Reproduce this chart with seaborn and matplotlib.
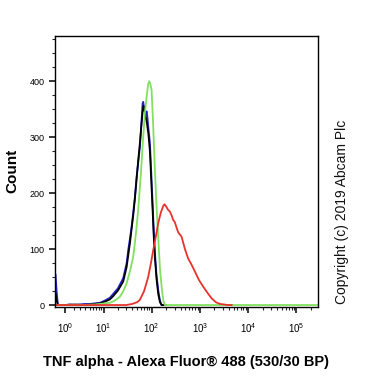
import numpy as np
import pandas as pd
import matplotlib
matplotlib.use("Agg")
import matplotlib.pyplot as plt
import matplotlib.ticker as mticker
import seaborn as sns

# ---- data (fluorescence intensity, event count) ----
blue_x = [0.05, 0.15, 0.28, 1.0, 1.5, 2.2, 3.0, 3.9, 5.1, 6.6, 8.4, 10.7, 13.6, 16.0, 20.1,
          25.8, 30.4, 33, 35.5, 38.5, 41.6, 45.1, 48.9, 52.8, 57.3, 61, 65.1, 67, 70, 72.7,
          76, 79, 82, 86, 92.2, 98, 104.9, 110, 117.1, 126, 137, 149, 161, 200]
blue_y = [55, 25, 0, 0, 1, 0, 1, 2, 2, 3, 4, 8, 13, 20, 30,
          48, 75, 100, 118, 140, 165, 193, 229, 255, 283, 320, 360, 363, 352, 348,
          342, 346, 335, 315, 290, 240, 182, 140, 93, 55, 27, 8, 0, 0]

black_x = [0.05, 0.15, 0.28, 1.0, 2.2, 3.9, 5.1, 8.4, 10.7, 13.6, 16.0, 20.1, 25.8, 30.4,
           35.5, 41.6, 45.1, 48.9, 52.8, 57.3, 61, 65.1, 68, 70, 72.7, 76, 80, 86, 92.2,
           98, 104.9, 110, 117.1, 126, 137, 149, 161, 200]
black_y = [21, 8, 0, 0, 1, 0, 1, 3, 6, 10, 16, 26, 42, 68,
           110, 160, 190, 225, 258, 290, 318, 345, 356, 352, 345, 335, 325, 305, 275,
           225, 170, 128, 85, 48, 20, 5, 0, 0]

green_x = [0.05, 1.0, 3.0, 6.6, 10.7, 13.6, 17.4, 22.1, 26, 30.4, 35.5, 41.6, 47, 52.8,
           60, 67, 73, 78.8, 85, 89.2, 94, 100, 107.9, 117.1, 126, 137, 149, 161, 175,
           188, 1000, 10000, 100000, 278000]
green_y = [0, 0, 0, 1, 3, 4, 8, 15, 25, 39, 60, 86, 125, 170,
           235, 300, 345, 372, 395, 400, 395, 384, 320, 241, 180, 122, 65, 33, 8,
           0, 0, 0, 0, 0]

red_x = [0.05, 1.0, 10, 30, 40, 50, 57, 70, 85, 97, 108, 122, 137, 155, 174, 185, 200,
         220, 239, 260, 280, 303, 330, 355, 418, 490, 572, 673, 787, 953, 1169, 1430,
         1747, 2143, 2594, 3140, 3800, 4600]
red_y = [0, 0, 0, 0, 2, 5, 9, 25, 50, 75, 98, 122, 146, 165, 177, 180, 176,
         170, 167, 160, 152, 148, 138, 130, 122, 100, 83, 72, 60, 45, 33, 22,
         12, 5, 2, 1, 0, 0]

series_names = ["isotype", "unstained", "control", "TNF alpha"]
series_colors = ["#2323c8", "#000000", "#82e060", "#e8322b"]

x_tick_vals = [1, 10, 100, 1000, 10000, 100000]
x_tick_labels = ["$10^{0}$", "$10^{1}$", "$10^{2}$", "$10^{3}$", "$10^{4}$", "$10^{5}$"]
y_tick_vals = [0, 100, 200, 300, 400]

frames = []
for name, xs, ys in zip(series_names, [blue_x, black_x, green_x, red_x],
                        [blue_y, black_y, green_y, red_y]):
    frames.append(pd.DataFrame({"x": xs, "y": ys, "s": name}))
df = pd.concat(frames, ignore_index=True)

sns.set_style("ticks")
plt.rcParams["font.family"] = ["Liberation Sans", "DejaVu Sans"]
plt.rcParams["mathtext.fontset"] = "custom"
plt.rcParams["mathtext.rm"] = "Liberation Sans"
plt.rcParams["mathtext.it"] = "Liberation Sans:italic"
plt.rcParams["mathtext.bf"] = "Liberation Sans:bold"
plt.rcParams["text.color"] = "black"
plt.rcParams["axes.labelcolor"] = "black"

fig = plt.figure(figsize=(3.81, 3.81), dpi=100)
ax = fig.add_axes([0.1444, 0.195, 0.690, 0.711])

sns.lineplot(data=df, x="x", y="y", hue="s", hue_order=series_names,
             palette=series_colors, estimator=None, sort=False, lw=1.3,
             legend=False, ax=ax)

ax.set_xscale("asinh", linear_width=2)
ax.set_xlim(0, 2.78e5)
ax.set_ylim(-3, 481)

ax.xaxis.set_major_locator(mticker.FixedLocator(x_tick_vals))
ax.xaxis.set_major_formatter(mticker.FixedFormatter(x_tick_labels))
minors = [m * 10 ** k for k in range(0, 5) for m in range(2, 10)] + [2e5]
ax.xaxis.set_minor_locator(mticker.FixedLocator(minors))
ax.xaxis.set_minor_formatter(mticker.NullFormatter())

ax.yaxis.set_major_locator(mticker.FixedLocator(y_tick_vals))
ax.yaxis.set_minor_locator(mticker.MultipleLocator(25))

for side in ["left", "right", "top", "bottom"]:
    ax.spines[side].set_visible(True)
    ax.spines[side].set_linewidth(1.0)
    ax.spines[side].set_color("black")

ax.tick_params(axis="both", which="major", direction="out", length=4.5, width=1.1,
               labelsize=6.5, colors="black")
ax.tick_params(axis="both", which="minor", direction="out", length=2.5, width=0.8)
ax.tick_params(axis="x", which="major", pad=6, labelsize=7)
ax.tick_params(axis="y", which="major", pad=3)

ax.set_xlabel("TNF alpha - Alexa Fluor\u00ae 488 (530/30 BP)", fontsize=10.5,
              fontweight="bold", color="black")
ax.xaxis.set_label_coords(0.5, -0.177)
ax.set_ylabel("Count", fontsize=11, fontweight="bold", color="black")
ax.yaxis.set_label_coords(-0.135, 0.5)

fig.text(0.898, 0.443, "Copyright (c) 2019 Abcam Plc", rotation=90, fontsize=10,
         ha="center", va="center", color="#111111")

fig.savefig("out.png", dpi=100)
